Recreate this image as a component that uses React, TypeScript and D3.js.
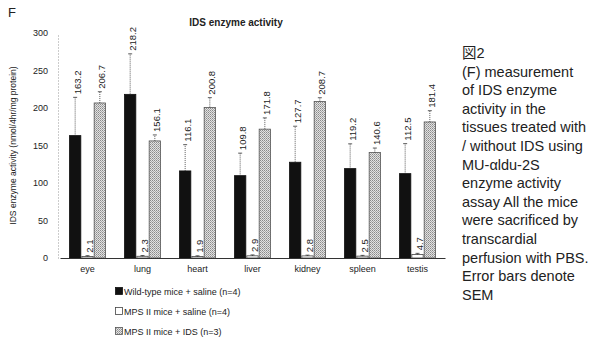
import { useEffect, useRef } from 'react';
import * as d3 from 'd3';

const tissues = ['eye', 'lung', 'heart', 'liver', 'kidney', 'spleen', 'testis'];
const groups = ['Wild-type mice + saline (n=4)', 'MPS II mice + saline (n=4)', 'MPS II mice + IDS (n=3)'];

// mean activity per tissue
const wildType = [163.2, 218.2, 116.1, 109.8, 127.7, 119.2, 112.5];
const mpsSaline = [2.1, 2.3, 1.9, 2.9, 2.8, 2.5, 4.7];
const mpsIds = [206.7, 156.1, 200.8, 171.8, 208.7, 140.6, 181.4];

// SEM (upper error bars)
const wildTypeErr = [51, 54, 35, 30, 48, 33, 40];
const mpsSalineErr = [1, 1, 1, 1.2, 1, 1, 1.5];
const mpsIdsErr = [15, 8, 13, 15, 5, 6, 15];

const yTicks = [0, 50, 100, 150, 200, 250, 300];

const noteLines = [
  '図2',
  '(F) measurement',
  'of IDS enzyme',
  'activity in the',
  'tissues treated with',
  '/ without IDS using',
  'MU-αldu-2S',
  'enzyme activity',
  'assay  All the mice',
  'were sacrificed by',
  'transcardial',
  'perfusion with PBS.',
  'Error bars denote',
  'SEM',
];

const FONT = "'Liberation Sans', Arial, 'Noto Sans CJK JP', sans-serif";

export default function App() {
  const svgRef = useRef<SVGSVGElement>(null);

  useEffect(() => {
    if (!svgRef.current) return;
    const svg = d3.select(svgRef.current);
    svg.selectAll('*').remove();

    const width = 599;
    const height = 345;
    const margin = { top: 33, left: 60, right: 154, bottom: 87 };

    const x0 = d3
      .scaleBand()
      .domain(tissues)
      .range([margin.left, width - margin.right]);

    const groupWidth = 37;
    const x1 = d3.scaleBand().domain(groups).range([0, groupWidth]).padding(0);

    const y = d3
      .scaleLinear()
      .domain([0, 300])
      .range([height - margin.bottom, margin.top]);

    // patterns
    const defs = svg.append('defs');
    const pat = defs
      .append('pattern')
      .attr('id', 'stipple')
      .attr('width', 2)
      .attr('height', 2)
      .attr('patternUnits', 'userSpaceOnUse');
    pat.append('rect').attr('width', 2).attr('height', 2).attr('fill', '#e2e2e2');
    pat.append('rect').attr('width', 1).attr('height', 1).attr('fill', '#8a8a8a');
    pat.append('rect').attr('x', 1).attr('y', 1).attr('width', 1).attr('height', 1).attr('fill', '#a8a8a8');

    svg.append('rect').attr('width', width).attr('height', height).attr('fill', '#fff');

    // "F" panel letter
    svg
      .append('text')
      .attr('x', 8)
      .attr('y', 17)
      .attr('font-family', FONT)
      .attr('font-size', 13)
      .attr('fill', '#222')
      .text('F');

    // title
    svg
      .append('text')
      .attr('x', 236)
      .attr('y', 26)
      .attr('text-anchor', 'middle')
      .attr('font-family', FONT)
      .attr('font-size', 10)
      .attr('font-weight', 'bold')
      .attr('fill', '#222')
      .text('IDS enzyme activity');

    // Y axis
    const yAxis = svg
      .append('g')
      .attr('transform', `translate(${margin.left - 2},0)`)
      .call(d3.axisLeft(y).tickValues(yTicks).tickSize(0).tickPadding(10));
    yAxis.select('.domain').attr('stroke', '#999').attr('stroke-dasharray', '1,2');
    yAxis.selectAll('text').attr('font-family', FONT).attr('font-size', 9).attr('fill', '#222');

    // Y label
    svg
      .append('text')
      .attr('transform', `translate(16,${(y(0) + y(300)) / 2}) rotate(-90)`)
      .attr('text-anchor', 'middle')
      .attr('font-family', FONT)
      .attr('font-size', 8.5)
      .attr('fill', '#222')
      .text('IDS enzyme activity (nmol/4hr/mg protein)');

    // bars
    const series = [
      { name: groups[0], values: wildType, errs: wildTypeErr, fill: '#111', stroke: '#111' },
      { name: groups[1], values: mpsSaline, errs: mpsSalineErr, fill: '#fff', stroke: '#444' },
      { name: groups[2], values: mpsIds, errs: mpsIdsErr, fill: 'url(#stipple)', stroke: '#555' },
    ];

    const offset = (x0.bandwidth() - groupWidth) / 2;
    const bw = x1.bandwidth();

    series.forEach((s) => {
      tissues.forEach((t, i) => {
        const bx = x0(t)! + offset + x1(s.name)!;
        const cx = bx + bw / 2;
        const v = s.values[i];
        const top = y(v);
        const errTop = y(v + s.errs[i]);

        svg
          .append('rect')
          .attr('x', bx + 0.5)
          .attr('y', top)
          .attr('width', bw - 1)
          .attr('height', y(0) - top)
          .attr('fill', s.fill)
          .attr('stroke', s.stroke)
          .attr('stroke-width', 0.8);

        // error bar
        svg
          .append('line')
          .attr('x1', cx)
          .attr('x2', cx)
          .attr('y1', top)
          .attr('y2', errTop)
          .attr('stroke', '#333')
          .attr('stroke-width', 0.8)
          .attr('stroke-dasharray', '1,1');
        svg
          .append('line')
          .attr('x1', cx - 2)
          .attr('x2', cx + 2)
          .attr('y1', errTop)
          .attr('y2', errTop)
          .attr('stroke', '#333')
          .attr('stroke-width', 0.8);

        // value label
        svg
          .append('text')
          .attr('transform', `translate(${cx + 5.5},${errTop - 3}) rotate(-90)`)
          .attr('font-family', FONT)
          .attr('font-size', 9.5)
          .attr('fill', '#222')
          .text(v.toFixed(1));
      });
    });

    // X axis
    const xAxis = svg
      .append('g')
      .attr('transform', `translate(0,${y(0)})`)
      .call(d3.axisBottom(x0).tickSize(0).tickPadding(8));
    xAxis.select('.domain').attr('stroke', '#333').attr('stroke-width', 1);
    xAxis.selectAll('text').attr('font-family', FONT).attr('font-size', 9).attr('fill', '#222');

    // legend
    const legend = svg.append('g').attr('transform', 'translate(115,287)');
    series.forEach((s, i) => {
      const row = legend.append('g').attr('transform', `translate(0,${i * 20})`);
      row
        .append('rect')
        .attr('x', 0.5)
        .attr('y', 0.5)
        .attr('width', 7)
        .attr('height', 7)
        .attr('fill', s.fill)
        .attr('stroke', s.stroke)
        .attr('stroke-width', 0.8);
      row
        .append('text')
        .attr('x', 9)
        .attr('y', 7.5)
        .attr('font-family', FONT)
        .attr('font-size', 9)
        .attr('fill', '#222')
        .text(s.name);
    });

    // caption on the right
    const note = svg
      .append('text')
      .attr('font-family', FONT)
      .attr('font-size', 14.5)
      .attr('fill', '#222');
    noteLines.forEach((line, i) => {
      note
        .append('tspan')
        .attr('x', 462)
        .attr('y', 58 + i * 18.6)
        .text(line);
    });
  }, []);

  return (
    <>
      <style>{'body{margin:0}'}</style>
      <svg ref={svgRef} width={599} height={345} style={{ display: 'block' }} />
    </>
  );
}
